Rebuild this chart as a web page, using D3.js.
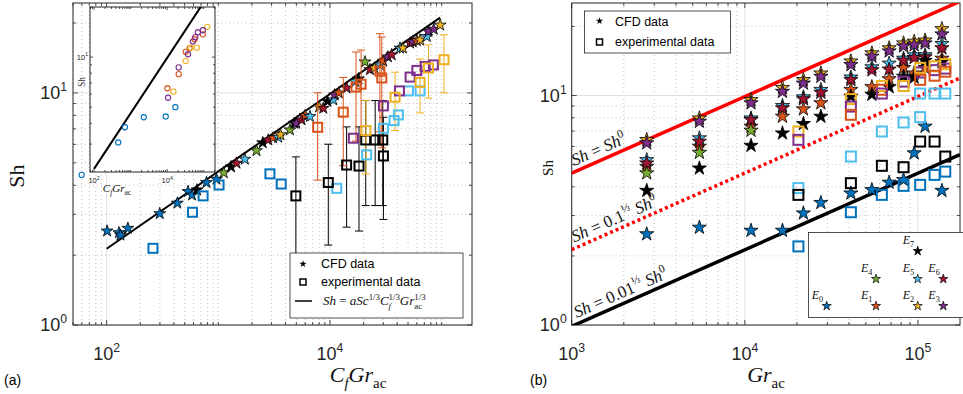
<!DOCTYPE html>
<html>
<head>
<meta charset="utf-8">
<script src="https://cdnjs.cloudflare.com/ajax/libs/d3/7.8.5/d3.min.js"></script>
<style>
  body { margin: 0; background: #fff; }
  svg { display: block; }
</style>
</head>
<body>
<div id="graphic"></div>
<script>
// Case colours E0 .. E7
const caseColors = ["#0072BD", "#D95319", "#EDB120", "#7E2F8E", "#77AC30", "#4DBEEE", "#A2142F", "#000000"];

// ---- panel (a) ----
// CFD stars: [CfGr_ac, Sh, case]
const cfdA = [
  [101, 2.54, 0], [129, 2.50, 0], [133, 2.44, 0], [155, 2.61, 0], [299, 3.02, 0], [430, 3.35, 0],
  [536, 3.76, 0], [582, 3.63, 0], [645, 3.82, 7], [784, 4.11, 0], [963, 4.25, 0], [1120, 4.53, 4],
  [1300, 4.8, 7], [1455, 4.98, 6], [1730, 5.18, 5], [2200, 5.64, 4], [2500, 6.1, 7], [2800, 6.27, 6],
  [3100, 6.4, 1], [3440, 6.44, 5], [3600, 6.6, 2], [4380, 6.93, 4], [4800, 7.4, 7], [5000, 7.4, 3],
  [5570, 7.65, 6], [6000, 8.0, 1], [6620, 7.91, 5], [8000, 8.7, 2], [8710, 8.59, 6], [9500, 9.2, 7],
  [10700, 9.33, 5], [11000, 9.8, 3], [12000, 10.0, 1], [14100, 10.5, 6], [16800, 11.2, 5],
  [18000, 11.5, 7], [20600, 13.6, 4], [22800, 12.6, 6], [25000, 12.8, 2], [28100, 13.2, 5],
  [30000, 13.7, 1], [33000, 14.3, 3], [35700, 14.6, 6], [42400, 15.6, 5], [45000, 15.6, 2],
  [52200, 16.4, 6], [55000, 16.6, 3], [60000, 16.8, 1], [64100, 16.9, 2], [73600, 17.5, 5],
  [76200, 18.4, 3], [85000, 18.8, 3], [97000, 19.6, 2]
];
// experimental squares: [CfGr_ac, Sh, error, case]
const expA = [
  [260, 2.14, 0, 0], [587, 3.06, 0, 0], [731, 3.60, 0, 0], [1016, 4.01, 0, 0], [2900, 4.48, 0, 0], [3660, 4.05, 0, 0],
  [11500, 3.88, 0, 5], [21300, 5.41, 0, 5], [30100, 7.04, 0, 5], [37500, 7.60, 0, 5], [41000, 8.04, 0, 5],
  [50400, 10.2, 0, 5], [64100, 10.2, 0, 5],
  [4950, 3.60, 1.7, 7], [9660, 4.11, 1.9, 7], [14100, 4.89, 2.25, 7], [18200, 4.84, 2.3, 7],
  [20900, 6.27, 3.0, 7], [25400, 6.27, 3.0, 7], [29700, 6.27, 3.0, 7], [30100, 5.35, 2.5, 7],
  [7760, 7.11, 2.9, 1], [13150, 8.26, 3.4, 1], [17100, 10.6, 4.4, 1], [19000, 10.9, 4.4, 1],
  [28000, 12.4, 5.6, 1], [29100, 11.6, 5.8, 1],
  [16200, 6.38, 0, 3], [30100, 8.79, 0, 3], [41900, 10.2, 0, 3], [52200, 11.7, 0, 3],
  [60000, 12.5, 0, 3], [71200, 13.0, 0, 3], [84400, 13.2, 0, 3],
  [21000, 6.88, 2.4, 2], [38300, 9.58, 2.7, 2], [64100, 11.1, 2.9, 2], [76200, 12.8, 3.3, 2], [105000, 13.9, 3.9, 2]
];
// correlation Sh = a Sc^1/3 (Cf Gr)^1/3, end points
const fitA = [[100, 2.13], [97000, 21.1]];
// inset circles: [CfGr_ac, Sh, case]
const insetPts = [
  [46, 1.96, 0], [459, 3.07, 0], [700, 3.79, 0], [2300, 4.35, 0], [9160, 4.40, 0], [16800, 5.0, 0],
  [10200, 6.5, 1], [20700, 7.9, 1], [32100, 10.76, 1], [41300, 11.3, 1], [56500, 12.8, 1], [95000, 13.7, 1],
  [14900, 6.2, 2], [32100, 9.46, 2], [44000, 11.4, 2], [65300, 11.4, 2], [125000, 15.2, 2],
  [10600, 5.7, 3], [20700, 8.67, 3], [37100, 10.4, 3], [50800, 12.4, 3], [59000, 13.2, 3], [69500, 14.1, 3], [95000, 14.5, 3]
];

// ---- panel (b) ----
const grB = [2713, 5466, 10860, 16500, 21800, 27500, 41000, 54200, 68200, 82600, 95100, 110000, 137600];
const shB0 = [2.49, 2.66, 2.58, 2.58, 3.07, 3.41, 3.75, 3.88, 4.18, 4.29, 5.61, 7.33, 3.85];
const shB1 = [4.90, 5.99, 7.33, 8.10, 8.72, 9.27, 10.6, 10.9, 11.8, 13.2, 12.5, 13.2, 14.5];
const shB2 = [6.41, 7.96, 9.58, 10.8, 11.7, 12.5, 14.1, 15.3, 16.1, 16.9, 17.2, 17.4, 19.5];
const shB3 = [6.20, 7.70, 9.27, 10.4, 11.3, 12.1, 13.6, 14.8, 15.6, 16.4, 16.6, 16.9, 18.5];
const shB4 = [4.59, 5.64, 7.04];
const shB5 = [5.24, 6.52, 7.96, 9.02, 9.84, 10.6, 12.0, 13.3, 13.8, 14.5, 15.0, 15.0, 16.8];
const shB6 = [5.07, 6.30, 7.83, 8.81, 9.65, 10.3, 11.7, 12.9, 13.0, 14.2, 14.6, 14.7, 16.1];
const shB7 = [3.85, 4.82, 6.05, 6.85, 7.53, 8.10, 9.9, 10.1, 10.9, 12.1, 12.0, 14.2, 14.0];
const shB = [shB0, shB1, shB2, shB3, shB4, shB5, shB6, shB7];
// experimental squares: [Gr_ac, Sh, case]
const expB = [
  [20400, 6.97, 2], [20400, 6.41, 3], [20400, 3.95, 5], [20400, 3.69, 7], [20400, 2.20, 0],
  [41000, 9.65, 2], [41000, 8.95, 3], [41000, 8.24, 1], [41000, 5.42, 5], [41000, 4.15, 7], [41000, 3.10, 0],
  [61900, 11.0, 2], [61900, 10.6, 1], [61900, 10.2, 3], [61900, 6.97, 5], [61900, 4.94, 7], [61900, 3.69, 0],
  [82600, 11.5, 3], [82600, 11.0, 2], [82600, 7.63, 5], [82600, 4.87, 7], [82600, 4.04, 0],
  [103000, 12.6, 3], [103000, 13.2, 2], [103000, 11.7, 1], [103000, 10.2, 5], [103000, 8.05, 5], [103000, 6.30, 7], [103000, 4.08, 0],
  [124800, 12.9, 3], [124800, 13.4, 2], [124800, 12.2, 1], [124800, 10.2, 5], [124800, 6.30, 7], [124800, 4.51, 0],
  [143900, 13.1, 3], [143900, 13.7, 2], [143900, 12.7, 1], [143900, 10.2, 5], [143900, 5.42, 7], [143900, 4.66, 0]
];
// Sh^0 end points and the three reference fractions
const shZero = [[1000, 4.59], [175000, 25.7]];
const refFactors = [1, 0.464, 0.215];

// tick labels
const ticksAx = [[100, "2"], [10000, "4"]];
const ticksAy = [[1, "0"], [10, "1"]];
const ticksBx = [[1000, "3"], [10000, "4"], [100000, "5"]];
const ticksBy = [[1, "0"], [10, "1"]];
const ticksIx = [[100, "2"], [10000, "4"]];
const ticksIy = [[10, "1"]];

const serif = "'Liberation Serif', 'DejaVu Serif', 'Times New Roman', serif";

let svg = d3.select("#graphic")
  .append("svg")
  .attr("width", 963)
  .attr("height", 394)
  .attr("font-family", "'Liberation Sans', Arial, sans-serif");

let defs = svg.append("defs");

// scales
let xA = d3.scaleLog().domain([50, 187000]).range([73, 472]);
let yA = d3.scaleLog().domain([1, 24.4]).range([325, 3]);
let xI = d3.scaleLog().domain([77.6, 204000]).range([90, 215]);
let yI = d3.scaleLog().domain([2.04, 20]).range([172, 7]);
let xB = d3.scaleLog().domain([1000, 175000]).range([571.7, 960]);
let yB = d3.scaleLog().domain([1, 25.3]).range([325, 3]);

function isMajor(v, list) {
  return list.some(t => Math.abs(Math.log10(t[0]) - Math.log10(v)) < 1e-6);
}

// grid, ticks and frame of a log-log axes box
function drawAxes(g, x, y, o) {
  let [x0, x1] = x.range(), [y1, y0] = y.range();
  let xt = x.ticks(), yt = y.ticks();
  if (o.grid) {
    g.append("g").selectAll("line").data(xt).enter().append("line")
      .attr("x1", d => x(d)).attr("x2", d => x(d)).attr("y1", y0).attr("y2", y1)
      .attr("stroke", d => isMajor(d, o.xMajor) ? "#e0e0e0" : "#c4c4c4")
      .attr("stroke-width", 1)
      .attr("stroke-dasharray", d => isMajor(d, o.xMajor) ? null : "1,3");
    g.append("g").selectAll("line").data(yt).enter().append("line")
      .attr("x1", x0).attr("x2", x1).attr("y1", d => y(d)).attr("y2", d => y(d))
      .attr("stroke", d => isMajor(d, o.yMajor) ? "#e0e0e0" : "#c4c4c4")
      .attr("stroke-width", 1)
      .attr("stroke-dasharray", d => isMajor(d, o.yMajor) ? null : "1,3");
  }
  let tk = g.append("g").attr("stroke", "#262626").attr("stroke-width", 0.8);
  xt.forEach(d => {
    let l = isMajor(d, o.xMajor) ? o.major : o.minor;
    tk.append("line").attr("x1", x(d)).attr("x2", x(d)).attr("y1", y1).attr("y2", y1 - l);
    tk.append("line").attr("x1", x(d)).attr("x2", x(d)).attr("y1", y0).attr("y2", y0 + l);
  });
  yt.forEach(d => {
    let l = isMajor(d, o.yMajor) ? o.major : o.minor;
    tk.append("line").attr("y1", y(d)).attr("y2", y(d)).attr("x1", x0).attr("x2", x0 + l);
    tk.append("line").attr("y1", y(d)).attr("y2", y(d)).attr("x1", x1).attr("x2", x1 - l);
  });
  g.append("rect")
    .attr("x", x0).attr("y", y0).attr("width", x1 - x0).attr("height", y1 - y0)
    .attr("fill", "none").attr("stroke", "#262626").attr("stroke-width", 1);
  // power-of-ten labels
  o.xMajor.forEach(t => {
    let tx = g.append("text").attr("x", x(t[0])).attr("y", o.xLabelY)
      .attr("text-anchor", "middle").attr("font-size", o.fs).attr("fill", "#262626");
    tx.append("tspan").text("10");
    tx.append("tspan").attr("dy", -o.fs * 0.45).attr("font-size", o.fs * 0.68).text(t[1]);
  });
  o.yMajor.forEach(t => {
    let tx = g.append("text").attr("x", x0 - o.yLabelGap).attr("y", y(t[0]) + o.fs * 0.35)
      .attr("text-anchor", "end").attr("font-size", o.fs).attr("fill", "#262626");
    tx.append("tspan").text("10");
    tx.append("tspan").attr("dy", -o.fs * 0.45).attr("font-size", o.fs * 0.68).text(t[1]);
  });
}

// small TeX-like text: parts = [text, kind, roman, back]
function mathText(g, x, y, size, parts, anchor) {
  let t = g.append("text").attr("x", x).attr("y", y)
    .attr("font-family", serif).attr("font-size", size).attr("fill", "#111")
    .attr("text-anchor", anchor || "start");
  let shift = 0, last = null;
  parts.forEach(p => {
    let dy = 0, fs = size;
    if (p[1] === "sup") { dy = -0.42 * size; fs = 0.68 * size; }
    if (p[1] === "sub") { dy = 0.28 * size; fs = 0.68 * size; }
    let ts = t.append("tspan").attr("dy", dy - shift).attr("font-size", fs)
      .attr("font-style", p[2] ? "normal" : "italic").text(p[0]);
    if (p[3] && last) ts.attr("dx", -last.node().getComputedTextLength());
    shift = dy;
    last = ts;
  });
  return t;
}

let star = (s) => d3.symbol().type(d3.symbolStar).size(s)();

// ================= panel (a) =================
let gA = svg.append("g");
defs.append("clipPath").attr("id", "clipA").append("rect")
  .attr("x", 73).attr("y", 3).attr("width", 399).attr("height", 322);

drawAxes(gA, xA, yA, {xMajor: ticksAx, yMajor: ticksAy, grid: true, major: 5, minor: 3,
  fs: 18, xLabelY: 360, yLabelGap: 6});

gA.append("path")
  .datum(fitA)
  .attr("clip-path", "url(#clipA)")
  .attr("d", d3.line().x(d => xA(d[0])).y(d => yA(d[1])))
  .attr("stroke", "#000").attr("stroke-width", 2).attr("fill", "none");

gA.append("g").selectAll("path").data(cfdA).enter().append("path")
  .attr("d", star(44))
  .attr("transform", d => `translate(${xA(d[0])},${yA(d[1])})`)
  .attr("fill", d => caseColors[d[2]])
  .attr("stroke", "#000").attr("stroke-width", 0.8);

// error bars
let errA = expA.filter(d => d[2] > 0);
let gErr = gA.append("g").attr("stroke-width", 1).attr("fill", "none");
errA.forEach(d => {
  let cx = xA(d[0]), top = yA(d[1] + d[2]), bot = yA(Math.max(d[1] - d[2], 1.01));
  let c = caseColors[d[3]];
  gErr.append("line").attr("x1", cx).attr("x2", cx).attr("y1", top).attr("y2", bot).attr("stroke", c);
  gErr.append("line").attr("x1", cx - 4).attr("x2", cx + 4).attr("y1", top).attr("y2", top).attr("stroke", c);
  gErr.append("line").attr("x1", cx - 4).attr("x2", cx + 4).attr("y1", bot).attr("y2", bot).attr("stroke", c);
});

gA.append("g").selectAll("rect").data(expA).enter().append("rect")
  .attr("x", d => xA(d[0]) - 4.5).attr("y", d => yA(d[1]) - 4.5)
  .attr("width", 9).attr("height", 9)
  .attr("fill", "none")
  .attr("stroke", d => caseColors[d[3]]).attr("stroke-width", 2);

// inset
let gI = svg.append("g");
gI.append("rect").attr("x", 90).attr("y", 7).attr("width", 125).attr("height", 165).attr("fill", "#fff");
defs.append("clipPath").attr("id", "clipI").append("rect")
  .attr("x", 90).attr("y", 7).attr("width", 125).attr("height", 165);
drawAxes(gI, xI, yI, {xMajor: ticksIx, yMajor: ticksIy, grid: false, major: 3, minor: 2,
  fs: 7.5, xLabelY: 183, yLabelGap: 2});
gI.append("path")
  .datum(fitA)
  .attr("clip-path", "url(#clipI)")
  .attr("d", d3.line().x(d => xI(d[0])).y(d => yI(d[1])))
  .attr("stroke", "#000").attr("stroke-width", 2).attr("fill", "none");
gI.append("g").selectAll("circle").data(insetPts).enter().append("circle")
  .attr("cx", d => xI(d[0])).attr("cy", d => yI(d[1])).attr("r", 2.6)
  .attr("fill", "none").attr("stroke", d => caseColors[d[2]]).attr("stroke-width", 1.1);
mathText(gI, 117, 192, 11, [["C"], ["f", "sub"], ["Gr"], ["ac", "sub", true]], "middle");
gI.append("text").attr("transform", "translate(85,82) rotate(-90)")
  .attr("text-anchor", "middle").attr("font-family", serif).attr("font-size", 9.5).attr("fill", "#333").text("Sh");

// legend (a)
let lgA = svg.append("g");
lgA.append("rect").attr("x", 290).attr("y", 253).attr("width", 173).attr("height", 65)
  .attr("fill", "#fff").attr("stroke", "#262626").attr("stroke-width", 0.8);
lgA.append("path").attr("d", star(16)).attr("transform", "translate(303,264)").attr("fill", "#000");
lgA.append("rect").attr("x", 300).attr("y", 279).attr("width", 6).attr("height", 6)
  .attr("fill", "none").attr("stroke", "#000").attr("stroke-width", 1.5);
lgA.append("line").attr("x1", 295).attr("x2", 312).attr("y1", 301).attr("y2", 301)
  .attr("stroke", "#000").attr("stroke-width", 1.5);
lgA.append("text").attr("x", 321).attr("y", 268).attr("font-size", 12.5).text("CFD data");
lgA.append("text").attr("x", 321).attr("y", 286).attr("font-size", 12.5).text("experimental data");
mathText(lgA, 323, 305, 13, [["Sh"], [" = ", "", true], ["aSc"], ["1/3", "sup", true], ["C"], ["f", "sub"],
  ["1/3", "sup", true, true], ["Gr"], ["ac", "sub", true], ["1/3", "sup", true, true]]);

// axis titles (a)
mathText(svg, 358, 382, 22, [["C"], ["f", "sub"], ["Gr"], ["ac", "sub", true]], "middle");
svg.append("text").attr("transform", "translate(24,176) rotate(-90)")
  .attr("text-anchor", "middle").attr("font-family", serif).attr("font-size", 22).attr("fill", "#111").text("Sh");
svg.append("text").attr("x", 4).attr("y", 385).attr("font-size", 14).text("(a)");

// ================= panel (b) =================
let gB = svg.append("g");
defs.append("clipPath").attr("id", "clipB").append("rect")
  .attr("x", 571.7).attr("y", 3).attr("width", 388.3).attr("height", 322);
drawAxes(gB, xB, yB, {xMajor: ticksBx, yMajor: ticksBy, grid: true, major: 5, minor: 3,
  fs: 18, xLabelY: 360, yLabelGap: 5});

let refStyles = [
  {color: "#ff0000", dash: null, width: 3.5},
  {color: "#ff0000", dash: "3,3", width: 3.5},
  {color: "#000000", dash: null, width: 3.5}
];
refFactors.forEach((f, i) => {
  gB.append("path")
    .datum(shZero.map(d => [d[0], d[1] * f]))
    .attr("clip-path", "url(#clipB)")
    .attr("d", d3.line().x(d => xB(d[0])).y(d => yB(d[1])))
    .attr("stroke", refStyles[i].color).attr("stroke-width", refStyles[i].width)
    .attr("stroke-dasharray", refStyles[i].dash).attr("fill", "none");
});

// rotated labels on the reference lines
let ang = Math.atan2(yB(shZero[1][1]) - yB(shZero[0][1]), xB(shZero[1][0]) - xB(shZero[0][0])) * 180 / Math.PI;
let refLabels = [
  [1035, [["Sh"], [" = ", "", true], ["Sh"], ["0", "sup", true]]],
  [1035, [["Sh"], [" = 0.1", "", true], ["⅓", "sup", true], [" "], ["Sh"], ["0", "sup", true]]],
  [1070, [["Sh"], [" = 0.01", "", true], ["⅓", "sup", true], [" "], ["Sh"], ["0", "sup", true]]]
];
refLabels.forEach((r, i) => {
  let px = xB(r[0]), py = yB(shZero[0][1] * refFactors[i] * Math.pow(r[0] / shZero[0][0], 1 / 3)) - 6;
  mathText(gB, px, py, 17, r[1]).attr("transform", `rotate(${ang},${px},${py})`);
});

grB.forEach((g, j) => {
  shB.forEach((arr, k) => {
    if (arr[j] == null) return;
    gB.append("path")
      .attr("d", star(62))
      .attr("transform", `translate(${xB(g)},${yB(arr[j])})`)
      .attr("fill", caseColors[k])
      .attr("stroke", "#000").attr("stroke-width", 0.8);
  });
});

gB.append("g").selectAll("rect").data(expB).enter().append("rect")
  .attr("x", d => xB(d[0]) - 5).attr("y", d => yB(d[1]) - 5)
  .attr("width", 10).attr("height", 10)
  .attr("fill", "none")
  .attr("stroke", d => caseColors[d[2]]).attr("stroke-width", 2);

// legend (b)
let lgB = svg.append("g");
lgB.append("rect").attr("x", 584.5).attr("y", 11).attr("width", 146).attr("height", 42)
  .attr("fill", "#fff").attr("stroke", "#262626").attr("stroke-width", 0.8);
lgB.append("path").attr("d", star(16)).attr("transform", "translate(599.5,21)").attr("fill", "#000");
lgB.append("rect").attr("x", 596.5).attr("y", 39).attr("width", 6).attr("height", 6)
  .attr("fill", "none").attr("stroke", "#000").attr("stroke-width", 1.5);
lgB.append("text").attr("x", 615).attr("y", 26).attr("font-size", 12.5).text("CFD data");
lgB.append("text").attr("x", 615).attr("y", 46).attr("font-size", 12.5).text("experimental data");

// case key
const keyPos = [[826.7, 306], [876, 306], [917.7, 306], [943.3, 306], [876, 279], [917.7, 279], [943.3, 279], [917.7, 251]];
let lgE = svg.append("g");
lgE.append("rect").attr("x", 808.5).attr("y", 232.5).attr("width", 160).attr("height", 85)
  .attr("fill", "#fff").attr("stroke", "#262626").attr("stroke-width", 0.8);
keyPos.forEach((p, k) => {
  lgE.append("path").attr("d", star(26)).attr("transform", `translate(${p[0]},${p[1]})`)
    .attr("fill", caseColors[k]).attr("stroke", "#000").attr("stroke-width", 0.7);
  mathText(lgE, p[0] - 15, p[1] - 7, 12, [["E"], [String(k), "sub", true]]);
});

// axis titles (b)
mathText(svg, 766, 382, 22, [["Gr"], ["ac", "sub", true]], "middle");
svg.append("text").attr("transform", "translate(553,168) rotate(-90)")
  .attr("text-anchor", "middle").attr("font-family", serif).attr("font-size", 15).attr("fill", "#111").text("Sh");
svg.append("text").attr("x", 530).attr("y", 385).attr("font-size", 14).text("(b)");
</script>
</body>
</html>
